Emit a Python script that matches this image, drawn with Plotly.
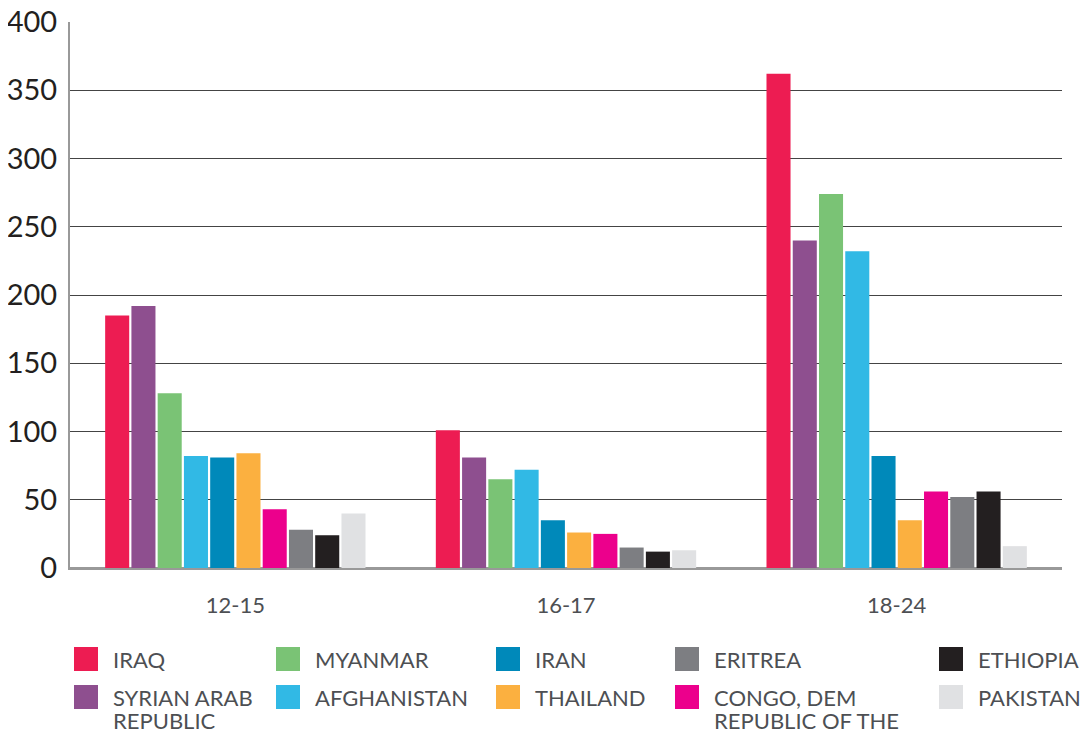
import plotly.graph_objects as go

categories = ["12-15", "16-17", "18-24"]

series_names = ["IRAQ", "SYRIAN ARAB REPUBLIC", "MYANMAR", "AFGHANISTAN", "IRAN",
                "THAILAND", "CONGO, DEM REPUBLIC OF THE", "ERITREA", "ETHIOPIA", "PAKISTAN"]
series_colors = ["#ED1C52", "#8E4F8F", "#7AC375", "#31B9E5", "#0089BA",
                 "#FBB040", "#EC008C", "#7D7E82", "#231F20", "#E0E1E3"]

iraq = [185, 101, 362]
syrian = [192, 81, 240]
myanmar = [128, 65, 274]
afghanistan = [82, 72, 232]
iran = [81, 35, 82]
thailand = [84, 26, 35]
congo = [43, 25, 56]
eritrea = [28, 15, 52]
ethiopia = [24, 12, 56]
pakistan = [40, 13, 16]

series_values = [iraq, syrian, myanmar, afghanistan, iran, thailand, congo, eritrea, ethiopia, pakistan]

y_ticks = [0, 50, 100, 150, 200, 250, 300, 350, 400]

legend_lines = {
    0: ["IRAQ"],
    1: ["SYRIAN ARAB", "REPUBLIC"],
    2: ["MYANMAR"],
    3: ["AFGHANISTAN"],
    4: ["IRAN"],
    5: ["THAILAND"],
    6: ["CONGO, DEM", "REPUBLIC OF THE"],
    7: ["ERITREA"],
    8: ["ETHIOPIA"],
    9: ["PAKISTAN"],
}
legend_grid = [[0, 1], [2, 3], [4, 5], [7, 6], [8, 9]]  # columns, each top/bottom

# the page body has an 8px margin; work in page pixels and shift
OFF = 8
W, H = 1090 - OFF, 733 - OFF
L, R, T, B = 70 - OFF, 28, 22 - OFF, 165
PW = W - L - R
PH = H - T - B

fig = go.Figure()
for name, color, vals in zip(series_names, series_colors, series_values):
    fig.add_trace(go.Bar(x=categories, y=vals, name=name, marker=dict(color=color, line=dict(width=0)),
                         showlegend=False))

def px_to_paper_x(px):
    return (px - OFF - L) / PW

def px_to_paper_y(py):
    return (H - B - (py - OFF)) / PH

col_x = [74, 276, 496, 675, 939]
row_top = [647, 685]
sq = 24
shapes = []
annotations = []
for ci, col in enumerate(legend_grid):
    for ri, si in enumerate(col):
        x0 = col_x[ci]
        y0 = row_top[ri]
        shapes.append(dict(type="rect", xref="paper", yref="paper",
                           x0=px_to_paper_x(x0), x1=px_to_paper_x(x0 + sq),
                           y0=px_to_paper_y(y0), y1=px_to_paper_y(y0 + sq),
                           fillcolor=series_colors[si], line=dict(width=0)))
        for li, line in enumerate(legend_lines[si]):
            cy = y0 + 12 + li * 23.5
            annotations.append(dict(text=line, xref="paper", yref="paper",
                                    x=px_to_paper_x(x0 + 37), y=px_to_paper_y(cy),
                                    xanchor="left", yanchor="middle", showarrow=False,
                                    font=dict(family="Lato", size=22, color="#4D4F53")))

fig.update_layout(
    width=W, height=H,
    margin=dict(l=L, r=R, t=T, b=B, autoexpand=False),
    paper_bgcolor="white", plot_bgcolor="white",
    barmode="group", bargap=0.206, bargroupgap=0.084,
    font=dict(family="Lato", color="#231F20"),
    shapes=shapes, annotations=annotations,
    showlegend=False,
)
fig.update_xaxes(
    type="category", range=[-0.5, 2.5], automargin=False,
    showline=True, linecolor="#999999", linewidth=2,
    showgrid=False, ticks="outside", ticklen=0, tickcolor="rgba(0,0,0,0)",
    ticklabelstandoff=17,
    tickfont=dict(family="Lato", size=22, color="#4D4F53"),
)
fig.update_yaxes(
    range=[0, 400], tickvals=y_ticks, automargin=False,
    showline=True, linecolor="#999999", linewidth=2,
    showgrid=True, gridcolor="#444444", gridwidth=1.3,
    zeroline=True, zerolinecolor="#999999", zerolinewidth=2,
    ticks="", ticklabelstandoff=5, ticklabeloverflow="allow",
    tickfont=dict(family="Lato", size=29, color="#231F20"),
)

fig.write_html("out.html")
